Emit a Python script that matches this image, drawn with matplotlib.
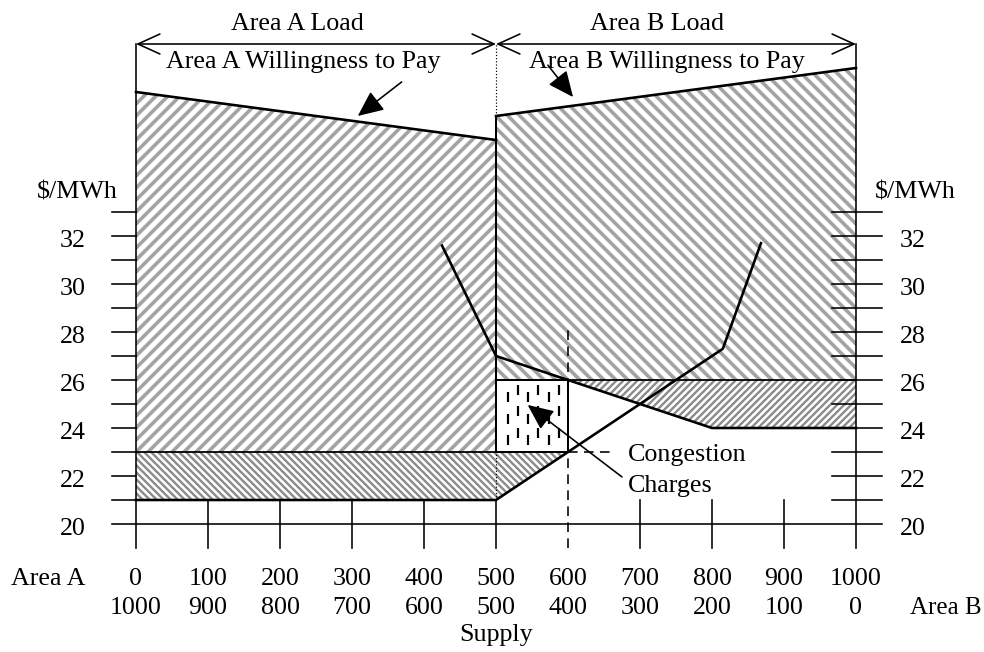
"""Two-area market diagram: willingness to pay, supply and congestion charges."""

import matplotlib

matplotlib.use("Agg")

import matplotlib.pyplot as plt
import numpy as np
from matplotlib.collections import LineCollection
from matplotlib.patches import Polygon
from matplotlib.transforms import IdentityTransform

plt.rcParams["font.family"] = ["Liberation Serif", "DejaVu Serif"]

# quantity axis (MW): Area A counts up, Area B counts down
qty_ticks = [0, 100, 200, 300, 400, 500, 600, 700, 800, 900, 1000]
area_a_labels = ["0", "100", "200", "300", "400", "500", "600", "700", "800", "900", "1000"]
area_b_labels = ["1000", "900", "800", "700", "600", "500", "400", "300", "200", "100", "0"]

# price axis ($/MWh)
price_labels = [20, 22, 24, 26, 28, 30, 32]
price_minor = [21, 22, 23, 24, 25, 26, 27, 28, 29, 30, 31, 32, 33]

# willingness to pay curves
wtp_a_q = [0, 500]
wtp_a_p = [38, 36]
wtp_b_q = [500, 1000]
wtp_b_p = [37, 39]

# supply curves
supply_a_q = [0, 500, 815, 868]
supply_a_p = [21, 21, 27.3, 31.7]
supply_b_q = [425, 500, 800, 1000]
supply_b_p = [31.6, 27, 24, 24]

split_q = 500     # border between the two loads
limit_q = 600     # transfer limit
price_a = 23      # Area A clearing price
price_b = 26      # Area B clearing price
top_p = 40        # load arrows

FONT = 26
DPI = 72


def hatch(ax, verts, direction, step, lw, color):
    poly = Polygon(verts, closed=True, facecolor="none", edgecolor="none")
    ax.add_patch(poly)
    pts = ax.transData.transform(np.asarray(verts, dtype=float))
    xs, ys = pts[:, 0], pts[:, 1]
    c = ys - xs if direction > 0 else ys + xs
    x0, x1 = xs.min() - 10, xs.max() + 10
    segs = []
    for cc in np.arange(c.min() - step, c.max() + step, step):
        if direction > 0:
            segs.append([(x0, x0 + cc), (x1, x1 + cc)])
        else:
            segs.append([(x0, cc - x0), (x1, cc - x1)])
    lc = LineCollection(segs, colors=color, linewidths=lw, transform=IdentityTransform(), zorder=1)
    ax.add_collection(lc, autolim=False)
    lc.set_clip_path(poly)


fig = plt.figure(figsize=(984 / DPI, 652 / DPI), dpi=DPI)
ax = fig.add_axes([0, 0, 1, 1])
ax.set_axis_off()
# 0.72 px per MW, 24 px per $/MWh
ax.set_xlim(-136 / 0.72, (984 - 136) / 0.72)
ax.set_ylim(20 - 128 / 24, 20 - 128 / 24 + 652 / 24)

# shaded areas
pa_lim = np.interp(limit_q, supply_a_q, supply_a_p)
pb_lim = np.interp(limit_q, supply_b_q, supply_b_p)
light = "#a3a3a3"
dense = "#8c8c8c"
hatch(ax, [(wtp_a_q[0], price_a), (wtp_a_q[1], price_a), (wtp_a_q[1], wtp_a_p[1]), (wtp_a_q[0], wtp_a_p[0])],
      +1, 12, 3.6, light)
hatch(ax, [(wtp_b_q[0], price_b), (wtp_b_q[1], price_b), (wtp_b_q[1], wtp_b_p[1]), (wtp_b_q[0], wtp_b_p[0])],
      -1, 12, 3.6, light)
hatch(ax, [(supply_a_q[0], supply_a_p[0]), (split_q, supply_a_p[1]), (limit_q, pa_lim), (0, price_a)],
      -1, 7, 2.4, dense)
hatch(ax, [(limit_q, pb_lim), (1000, price_b), (1000, supply_b_p[-1]), (supply_b_q[2], supply_b_p[2])],
      +1, 7, 2.4, dense)

# congestion box dashes
for k, qx in enumerate(np.arange(split_q + 17, limit_q - 5, 14)):
    y = price_a + 0.28 + (0.3 if k % 2 else 0.0)
    while y + 0.42 < price_b - 0.1:
        ax.plot([qx, qx], [y, y + 0.42], color="black", lw=2.2, solid_capstyle="butt", zorder=2)
        y += 0.9
ax.plot([split_q, limit_q, limit_q, split_q, split_q], [price_a, price_a, price_b, price_b, price_a],
        color="black", lw=2, zorder=3)

# axes frame and ticks
ax.plot([0, 0], [19, top_p], color="black", lw=1.6, zorder=3)
ax.plot([1000, 1000], [19, top_p], color="black", lw=1.6, zorder=3)
ax.plot([-33, 1036], [20, 20], color="black", lw=1.6, zorder=3)
for p in price_minor:
    ax.plot([-33, 0], [p, p], color="black", lw=1.6, zorder=3)
    ax.plot([967, 1036], [p, p], color="black", lw=1.6, zorder=3)
for q in qty_ticks[1:-1]:
    if q != limit_q:
        ax.plot([q, q], [19, 21], color="black", lw=1.6, zorder=3)

# price lines and border
ax.plot([0, limit_q], [price_a, price_a], color="black", lw=1.8, zorder=3)
ax.plot([split_q, 1000], [price_b, price_b], color="black", lw=1.8, zorder=3)
ax.plot([split_q, split_q], [price_a, wtp_b_p[0]], color="black", lw=2, zorder=3)
ax.plot([split_q, split_q], [supply_a_p[1], price_a], color="black", lw=1.2, ls=":", zorder=3)
ax.plot([split_q, split_q], [wtp_b_p[0], top_p], color="black", lw=1.2, ls=":", zorder=3)
ax.plot([limit_q, limit_q], [19, 28.2], color="black", lw=1.6, dashes=(6, 4), zorder=3)
ax.plot([limit_q, 661], [price_a, price_a], color="black", lw=1.6, dashes=(6, 4), zorder=3)

# curves
ax.plot(wtp_a_q, wtp_a_p, color="black", lw=2.6, zorder=4)
ax.plot(wtp_b_q, wtp_b_p, color="black", lw=2.6, zorder=4)
ax.plot(supply_a_q, supply_a_p, color="black", lw=2.6, zorder=4)
ax.plot(supply_b_q, supply_b_p, color="black", lw=2.6, zorder=4)

# load arrows
load_style = dict(arrowstyle="<->,head_length=1.1,head_width=0.5", mutation_scale=20, lw=1.6,
                  color="black", shrinkA=0, shrinkB=0)
ax.annotate("", xy=(0, top_p), xytext=(split_q, top_p), arrowprops=load_style)
ax.annotate("", xy=(split_q, top_p), xytext=(1000, top_p), arrowprops=load_style)
ax.text(224, 40.58, "Area A Load", fontsize=FONT, ha="center", va="baseline")
ax.text(724, 40.58, "Area B Load", fontsize=FONT, ha="center", va="baseline")
ax.text(232, 39.0, "Area A Willingness to Pay", fontsize=FONT, ha="center", va="baseline")
ax.text(737, 39.0, "Area B Willingness to Pay", fontsize=FONT, ha="center", va="baseline")

pointer = dict(arrowstyle="-|>,head_length=1.0,head_width=0.45", mutation_scale=22, lw=1.6,
               color="black", shrinkA=0, shrinkB=0)
ax.annotate("", xy=(308, 37.0), xytext=(369, 38.42), arrowprops=pointer, zorder=5)
ax.annotate("", xy=(607, 37.79), xytext=(572, 39.12), arrowprops=pointer, zorder=5)
ax.annotate("", xy=(544, 24.96), xytext=(675, 21.96), arrowprops=pointer, zorder=5)
ax.text(683, 22.63, "Congestion", fontsize=FONT, ha="left", va="baseline")
ax.text(683, 21.33, "Charges", fontsize=FONT, ha="left", va="baseline")

# tick labels
for p in price_labels:
    ax.text(-87.5, p - 0.45, f"{p}", fontsize=FONT, ha="center", va="baseline")
    ax.text(1079, p - 0.45, f"{p}", fontsize=FONT, ha="center", va="baseline")
ax.text(-81, 33.58, "$/MWh", fontsize=FONT, ha="center", va="baseline")
ax.text(1082, 33.58, "$/MWh", fontsize=FONT, ha="center", va="baseline")
for q, la, lb in zip(qty_ticks, area_a_labels, area_b_labels):
    ax.text(q, 17.46, la, fontsize=FONT, ha="center", va="baseline")
    ax.text(q, 16.25, lb, fontsize=FONT, ha="center", va="baseline")
ax.text(-121.5, 17.46, "Area A", fontsize=FONT, ha="center", va="baseline")
ax.text(1174, 16.25, "Area B", fontsize=FONT - 1, ha="right", va="baseline")
ax.text(split_q, 15.12, "Supply", fontsize=FONT, ha="center", va="baseline")

fig.savefig("out.png", dpi=DPI)
